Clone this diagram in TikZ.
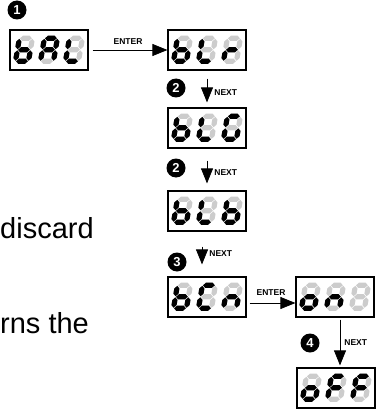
\documentclass[tikz,border=0pt]{standalone}
\usepackage{fontspec}
\setsansfont{Liberation Sans}
\usetikzlibrary{arrows.meta}

% segments of one digit (local units, y down)
\def\sega{(0.6,0)--(3.2,-2.6)--(9.8,-2.6)--(12.4,0)--(9.8,2.6)--(3.2,2.6)--cycle}
\def\segg{(0.6,11.5)--(3.2,8.9)--(9.8,8.9)--(12.4,11.5)--(9.8,14.1)--(3.2,14.1)--cycle}
\def\segd{(0.6,23)--(3.2,20.4)--(9.8,20.4)--(12.4,23)--(9.8,25.6)--(3.2,25.6)--cycle}
\def\segf{(0,0.6)--(2.6,3.2)--(2.6,8.3)--(0,10.9)--(-2.6,8.3)--(-2.6,3.2)--cycle}
\def\segb{(13,0.6)--(15.6,3.2)--(15.6,8.3)--(13,10.9)--(10.4,8.3)--(10.4,3.2)--cycle}
\def\sege{(0,12.1)--(2.6,14.7)--(2.6,19.8)--(0,22.4)--(-2.6,19.8)--(-2.6,14.7)--cycle}
\def\segc{(13,12.1)--(15.6,14.7)--(15.6,19.8)--(13,22.4)--(10.4,19.8)--(10.4,14.7)--cycle}

\newcommand{\segdigit}[2]{%
  \begin{scope}[shift={#1}, xslant=0.17]
    \foreach \s in {a,b,c,d,e,f,g} {\fill[segoff] \csname seg\s\endcsname;}
    \foreach \s in {#2} {\ifx\s\empty\else\fill[segon] \csname seg\s\endcsname;\fi}
  \end{scope}}

\newcommand{\segdisplay}[4]{%
  \begin{scope}[shift={(#1.north west)}]
    \segdigit{(10,8.9)}{#2}
    \segdigit{(35,8.9)}{#3}
    \segdigit{(60,8.9)}{#4}
  \end{scope}}

\tikzset{
  display/.style={draw, line width=1.2pt, fill=white, minimum width=78pt, minimum height=40pt, inner sep=0pt},
  badge/.style={circle, fill=black, text=white, font=\sffamily\bfseries\fontsize{13}{13}\selectfont, minimum size=19pt, inner sep=0pt},
  keylabel/.style={font=\sffamily\bfseries\fontsize{8.5}{9}\selectfont, inner sep=1pt},
  keyarrow/.style={-{Triangle[length=15pt,width=12pt]}, line width=0.8pt},
  segon/.style={black},
  segoff/.style={black!20},
  bodytext/.style={font=\sffamily\fontsize{29}{31}\selectfont, inner sep=0pt, anchor=base west}
}

\begin{document}
\begin{tikzpicture}[x=1pt, y=-1pt]
    \useasboundingbox (0,0) rectangle (375,409);

    % Text cut off on the left
    \node[bodytext] (discard) at (0,238) {discard};
    \node[bodytext] (returns) at (0,333) {rns the};

    % Displays
    \node[display] (bal) at (49,50) {};
    \node[display] (blr) at (207,50) {};
    \node[display] (blg) at (207,128) {};
    \node[display] (blb) at (207,211) {};
    \node[display] (bcn) at (207,297) {};
    \node[display] (on) at (335,297) {};
    \node[display] (off) at (336,388) {};

    \segdisplay{bal}{c,d,e,f,g}{a,b,c,e,f,g}{d,e,f}
    \segdisplay{blr}{c,d,e,f,g}{d,e,f}{e,g}
    \segdisplay{blg}{c,d,e,f,g}{d,e,f}{a,c,d,e,f}
    \segdisplay{blb}{c,d,e,f,g}{d,e,f}{c,d,e,f,g}
    \segdisplay{bcn}{c,d,e,f,g}{a,d,e,f}{c,e,g}
    \segdisplay{on}{c,d,e,g}{c,e,g}{}
    \segdisplay{off}{c,d,e,g}{a,e,f,g}{a,e,f,g}

    % Step badges
    \node[badge] (step1) at (17,10) {1};
    \node[badge] (step2a) at (176,88) {2};
    \node[badge] (step2b) at (176,168) {2};
    \node[badge] (step3) at (177,262) {3};
    \node[badge] (step4) at (310,343) {4};

    % Arrows
    \draw[keyarrow, shorten <=4pt] (bal) -- (blr) node[keylabel, midway, above=4pt] {ENTER};
    \draw[keyarrow, shorten <=8pt, shorten >=5pt] (blr.south) -- (blg.north)
        node[keylabel, pos=0.6, right=6pt] {NEXT};
    \draw[keyarrow, shorten <=12pt, shorten >=7pt] (blg.south) -- (blb.north)
        node[keylabel, pos=0.57, right=6pt] {NEXT};
    \draw[keyarrow, shorten <=15pt, shorten >=12pt] ([xshift=-5pt]blb.south) -- ([xshift=-5pt]bcn.north)
        node[keylabel, pos=0.5, right=6pt] {NEXT};
    \draw[keyarrow, shorten <=3pt] ([yshift=-6pt]bcn.east) -- ([yshift=-6pt]on.west)
        node[keylabel, midway, above=6pt] {ENTER};
    \draw[keyarrow, shorten <=2pt, shorten >=2pt] ([xshift=5pt]on.south) -- ([xshift=5pt]on.south |- off.north)
        node[keylabel, pos=0.5, right=3pt] {NEXT};
\end{tikzpicture}
\end{document}
